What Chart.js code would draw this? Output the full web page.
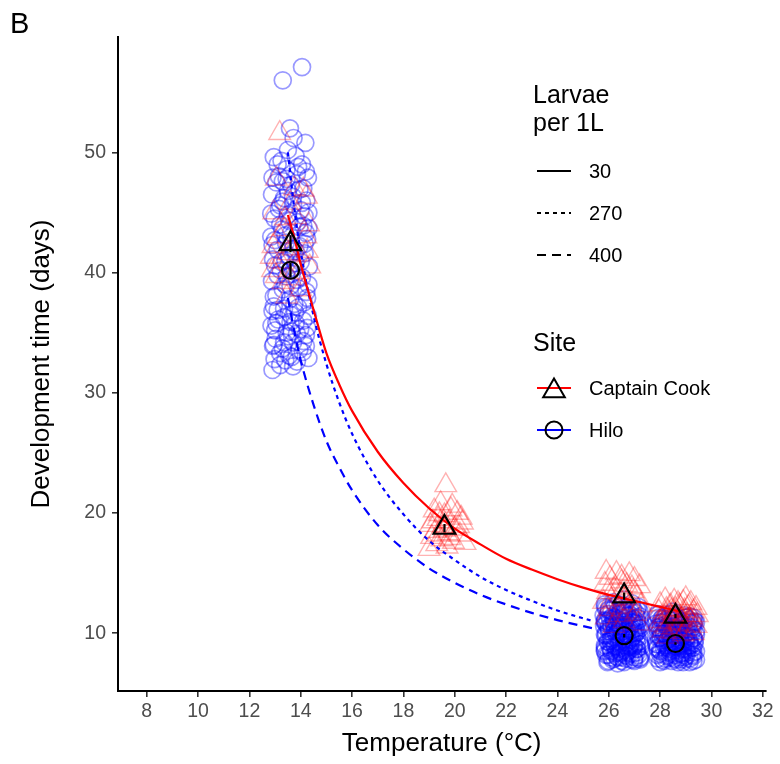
<!DOCTYPE html>
<html>
<head>
<meta charset="utf-8">
<script src="https://cdn.jsdelivr.net/npm/chart.js@4.4.0/dist/chart.umd.min.js"></script>
<style>
  html, body { margin: 0; padding: 0; background: #fff; }
  #wrap { width: 780px; height: 764px; }
</style>
</head>
<body>
<div id="wrap"><canvas id="devChart" width="780" height="764"></canvas></div>
<script>
// ---- values ----

// Hilo, individual larvae (circles)
const hilo13Temp = [13.58,13.72,14.18,12.95,13.25,14.05,13.45,13.85,14.28,13.05,13.62,13.95,12.88,13.35,14.22,13.7,13.15,14.3,13.5,12.98,
  13.88,14.1,13.28,13.62,12.85,14.25,13.42,13.95,13.1,14.15,13.55,12.92,13.8,14.32,13.22,13.65,14.05,12.88,13.4,13.9,
  14.22,13.05,13.58,14.12,12.95,13.35,13.78,14.28,13.12,13.6,12.86,13.98,13.45,14.2,13.02,13.7,12.92,13.3,14.08,13.55,
  12.98,13.85,14.3,13.2,12.9,13.75,13.2,14.0,13.5,12.9,14.2,13.3,13.9,13.0,14.1,13.4,13.7,13.1,14.3,13.6,
  12.95,13.85,13.45,13.15,13.8,14.1,13.35,13.65,14.25,13.0,13.3,14.05,
  13.5,13.1,13.9,14.2,12.9,13.3,13.7,14.05,13.2,13.55,13.95,14.3,12.85,13.4,13.8,14.15,13.0,13.6,13.25,13.85,
  14.0,12.95,13.45,13.75,14.25,13.1,13.35,13.65,14.1,12.9,13.5,13.95,13.2,13.7,14.2,13.05,13.4,13.8,14.15,13.3];
const hilo13Days = [52.0,51.2,50.8,49.6,49.3,49.0,48.6,48.2,47.9,47.5,47.3,46.9,46.5,46.2,46.0,45.7,45.3,45.0,44.8,44.5,
  44.2,43.9,43.6,43.3,43.0,42.8,42.5,42.2,41.9,41.6,41.4,41.1,40.8,40.5,40.2,39.9,39.6,39.3,39.0,38.7,
  38.4,38.1,37.8,37.5,37.2,37.0,36.7,36.4,36.1,35.9,35.6,35.3,35.0,34.8,34.5,34.2,33.9,33.7,33.4,33.1,
  32.8,32.6,32.9,32.3,31.9,40.4,44.0,45.2,46.8,42.3,43.3,38.6,37.1,35.2,36.0,41.0,42.0,39.8,39.0,36.5,
  34.0,34.9,47.8,48.0,49.7,47.0,34.2,33.0,35.4,40.6,56.0,57.1,
  50.2,49.0,48.8,48.4,47.9,47.6,46.3,45.8,45.6,44.3,43.8,43.7,44.9,43.1,41.8,42.4,42.7,38.9,40.9,39.4,
  40.9,38.0,39.7,37.4,37.9,36.9,36.3,35.1,34.3,36.8,34.7,33.6,33.3,32.2,33.9,35.8,32.7,35.8,44.7,45.9];

const hilo26Temp = [25.85,26.2,26.55,26.9,27.15,26.0,26.35,26.7,27.05,25.8,26.15,26.5,26.85,27.2,25.95,26.3,26.65,27.0,25.82,26.1,
  26.45,26.8,27.15,26.0,26.35,26.7,27.05,25.88,26.2,26.55,26.9,27.2,26.05,26.4,26.75,27.1,25.85,26.25,26.6,26.95,
  27.25,26.1,26.45,26.8,27.1,25.9,26.3,26.65,27.0,26.15,26.5,26.85,27.2,25.95,26.35,26.0,26.6,26.9,26.25,26.6,
  26.95,26.1,26.4,27.0,25.9,26.75,26.3,26.55,26.85,27.1,26.2,26.5,25.85,27.15,26.65,
  25.9,26.25,26.6,26.95,27.2,26.05,26.4,26.75,27.1,25.85,26.2,26.55,26.9,27.25,26.0,26.35,26.7,27.05,25.9,26.3,
  26.65,27.0,26.15,26.5,26.85,27.2,25.95,26.4,26.8,27.1,26.05,26.45,26.7,25.85,26.25,26.6,26.95,26.1,26.5,27.0,
  25.85,26.1,26.35,26.6,26.85,27.1, 25.98,26.22,26.48,26.72,26.98,27.22,
  25.85,26.1,26.35,26.6,26.85,27.1, 25.98,26.22,26.48,26.72,26.98,27.22,
  25.85,26.1,26.35,26.6,26.85,27.1, 25.98,26.22,26.48,26.72,26.98,27.22,
  25.85,26.1,26.35,26.6,26.85,27.1, 25.98,26.22,26.48,26.72,26.98,27.22,
  25.85,26.1,26.35,26.6,26.85,27.1, 25.98,26.22,26.48,26.72,26.98,27.22];
const hilo26Days = [12.4,12.6,12.3,12.5,12.2,11.9,11.8,11.9,11.7,11.5,11.4,11.3,11.5,11.2,11.0,10.9,11.0,10.8,10.6,10.5,
  10.6,10.4,10.5,10.2,10.1,10.2,10.0,9.8,9.7,9.8,9.6,9.7,9.4,9.3,9.4,9.2,9.0,8.9,9.0,8.8,
  8.9,8.6,8.5,8.6,8.4,8.2,8.1,8.2,8.0,7.8,7.7,7.8,7.9,7.6,7.5,12.0,12.8,11.1,10.3,9.5,
  10.3,9.1,11.6,9.0,10.8,8.8,8.4,10.7,9.9,11.0,11.1,8.8,8.5,8.2,7.9,
  12.1,12.3,11.7,12.0,11.8,11.2,11.1,11.4,11.3,11.1,10.8,10.4,10.9,10.7,10.4,10.6,9.9,10.4,10.0,9.9,
  10.0,9.8,9.5,9.2,9.1,9.3,9.3,8.7,8.9,8.7,8.8,8.3,8.4,8.6,8.3,7.6,8.3,8.0,8.0,7.7,
  12.2,11.9,12.4,12.1,11.8,12.0, 11.6,11.3,11.7,11.5,11.2,11.4,
  11.0,10.7,11.2,10.9,10.6,10.8, 10.5,10.2,10.6,10.3,10.0,10.4,
  9.9,9.6,10.1,9.8,9.5,9.7, 9.3,9.0,9.5,9.2,8.9,9.1,
  8.8,8.5,8.9,8.6,8.3,8.7, 8.2,7.9,8.4,8.1,7.8,8.0,
  10.9,9.4,8.0,11.8,9.0,10.1, 7.7,10.6,11.9,8.5,10.9,7.8];

const hilo28Temp = [27.9,28.25,28.6,28.95,29.3,28.05,28.4,28.75,29.1,29.4,27.85,28.2,28.55,28.9,29.25,28.0,28.35,28.7,29.05,29.4,
  27.9,28.25,28.6,28.95,29.3,28.1,28.45,28.8,29.15,27.85,28.2,28.55,28.9,29.25,28.0,28.35,28.7,29.05,29.4,27.9,
  28.25,28.6,28.95,29.3,28.1,28.45,28.8,29.15,28.0,29.4,28.5,28.15,28.8,29.2,28.4,28.65,29.0,28.3,27.95,29.35,
  28.5,28.85,28.1,29.1,28.7,
  27.95,28.3,28.65,29.0,29.35,28.1,28.45,28.8,29.15,27.9,28.25,28.6,28.95,29.3,28.05,28.4,28.75,29.1,29.4,27.95,
  28.3,28.65,29.0,29.35,28.15,28.5,28.85,29.2,27.9,28.35,28.7,29.05,28.0,28.45,28.9,29.25,28.2,28.55,28.95,29.3,
  27.9,28.15,28.4,28.65,28.9,29.15, 28.02,28.28,28.52,28.78,29.02,29.3,
  27.9,28.15,28.4,28.65,28.9,29.15, 28.02,28.28,28.52,28.78,29.02,29.3,
  27.9,28.15,28.4,28.65,28.9,29.15, 28.02,28.28,28.52,28.78,29.02,29.3,
  27.9,28.15,28.4,28.65,28.9,29.15, 28.02,28.28,28.52,28.78,29.02,29.3,
  27.9,28.15,28.4,28.65,28.9,29.15, 28.02,28.28,28.52,28.78,29.02,29.3];
const hilo28Days = [11.6,11.5,11.4,11.5,11.3,11.2,11.1,11.0,11.1,10.9,10.8,10.7,10.6,10.7,10.5,10.3,10.2,10.3,10.1,10.2,
  9.9,9.8,9.7,9.8,9.6,9.4,9.3,9.4,9.2,9.1,9.0,8.9,9.0,8.8,8.6,8.5,8.6,8.4,8.5,8.2,
  8.1,8.2,8.0,8.1,7.8,7.7,7.8,7.6,7.6,7.8,11.8,10.0,10.9,9.9,9.6,9.0,8.7,8.8,10.5,9.4,
  10.4,8.3,11.3,10.6,7.6,
  11.3,11.2,11.2,11.3,11.0,10.9,10.8,10.8,10.9,10.5,10.5,10.4,10.4,10.3,10.0,10.0,9.9,9.8,9.9,9.6,
  9.5,9.4,9.5,9.2,9.2,9.1,9.1,9.0,8.8,8.7,8.8,8.6,8.3,8.3,8.4,8.2,7.9,7.9,7.8,7.7,
  11.5,11.2,11.6,11.3,11.0,11.4, 10.9,10.6,11.0,10.7,10.5,10.8,
  10.3,10.0,10.4,10.1,9.8,10.2, 9.7,9.4,9.8,9.5,9.3,9.6,
  9.1,8.8,9.2,8.9,8.7,9.0, 8.5,8.2,8.6,8.3,8.1,8.4,
  7.9,7.7,8.0,7.8,7.6,7.9, 10.6,9.0,11.2,8.0,9.7,10.9,
  8.7,11.0,9.9,10.4,8.2,9.3, 9.6,8.4,10.2,9.1,11.3,8.8];

// Captain Cook, individual larvae (triangles)
const cc13Temp = [13.18,13.05,14.1,14.22,13.6,12.95,13.8,14.3,13.35,14.2,12.92,13.7,13.5,13.95,12.85,13.2,14.35,13.05,13.3,13.9,
  13.45,14.0,13.15,13.75,13.4,12.9,14.25,13.6];
const cc13Days = [51.6,47.8,46.9,46.3,45.8,45.0,44.6,44.0,43.6,43.0,42.2,42.0,41.6,41.5,41.3,40.9,40.5,39.7,39.2,40.0,
  38.0,38.6,43.0,47.0,44.5,40.2,41.8,39.5];

const cc19Temp = [19.65,19.45,19.9,19.2,20.1,19.6,19.35,19.8,20.3,19.05,19.55,20.0,19.25,19.75,20.2,19.1,19.5,19.95,19.3,20.4,
  19.7,19.0,20.15,19.4,19.85,19.6,20.25,19.15,19.8,19.35];
const cc19Days = [22.3,20.8,20.6,20.2,20.0,19.8,19.5,19.3,19.2,19.0,18.9,18.7,18.5,18.3,18.2,18.0,17.8,17.6,17.4,17.5,
  17.2,17.0,18.9,19.9,20.3,18.6,19.6,19.3,17.9,18.2];

const cc26Temp = [25.9,26.3,26.8,26.05,27.0,26.5,25.85,26.7,27.2,26.2,26.95,25.95,26.45,27.1,26.6,26.1,25.8,26.85,27.25,26.35,
  26.0,26.75,27.05,26.4,25.9,26.6,27.15,26.2,26.5,26.9];
const cc26Days = [15.1,15.0,14.9,14.6,14.5,14.3,14.1,14.0,13.9,13.7,13.5,13.4,13.3,13.1,12.9,12.8,12.6,12.5,12.3,12.2,
  12.0,11.8,11.6,11.5,11.3,11.0,10.8,10.6,14.7,13.8];

const cc28Temp = [28.2,28.55,28.9,29.2,28.0,28.4,28.75,29.1,29.4,28.25,28.6,28.95,29.3,27.95,28.35,28.7,29.05,29.45,28.15,28.5,
  28.85,29.2,28.0,28.4,28.8,29.15,29.4,28.25,28.65,29.0,28.1,28.5,29.3,28.9,28.3,28.7,29.0,28.45,29.25,28.05];
const cc28Days = [12.8,12.7,12.6,12.5,12.4,12.3,12.3,12.2,12.1,12.0,12.0,11.9,11.8,11.8,11.7,11.6,11.5,11.5,11.4,11.3,
  11.2,11.1,11.0,10.9,10.8,10.7,10.6,10.5,10.4,10.3,10.2,10.1,10.0,9.9,9.7,12.5,12.9,11.9,11.3,10.7];

// group means with error bars
const ccMeanTemp = [13.6, 19.6, 26.6, 28.6];
const ccMeanDays = [42.4, 18.8, 13.1, 11.4];
const ccMeanLo   = [41.7, 18.4, 12.8, 11.25];
const ccMeanHi   = [43.1, 19.1, 13.4, 11.6];
const hiloMeanTemp = [13.6, 26.6, 28.6];
const hiloMeanDays = [40.2, 9.8, 9.15];
const hiloMeanLo   = [39.6, 9.65, 9.05];
const hiloMeanHi   = [40.8, 9.95, 9.25];

// fitted curves (larvae per 1L)
const fit30Temp  = [13.5,13.75,14,14.5,15,15.5,16,17,18,19,20,21,22,23,24,25,26,27,28,28.8];
const fit30Days  = [44.8,42.9,40.7,36.9,33.3,30.7,28.5,25.1,22.5,20.4,18.7,17.4,16.2,15.3,14.5,13.8,13.2,12.7,12.2,11.8];
const fit270Temp = [13.5,13.75,14,14.5,15,15.5,16,17,18,19,20,21,22,23,24,25.4];
const fit270Days = [50.0,45.3,41.7,36.4,32.4,29.2,26.6,22.7,19.9,17.7,16.1,14.7,13.6,12.7,11.9,11.0];
const fit400Temp = [13.5,13.75,14,14.5,15,15.5,16,17,18,19,20,21,22,23,24,25.4];
const fit400Days = [37.9,35.1,32.7,29.0,26.0,23.8,21.9,19.0,17.0,15.4,14.2,13.2,12.4,11.7,11.1,10.4];

const xTicks = [8,10,12,14,16,18,20,22,24,26,28,30,32];
const yTicks = [10,20,30,40,50];
const densityLabels = ['30', '270', '400'];
const siteLabels = ['Captain Cook', 'Hilo'];

// ---- helpers ----
const FONT = '"Liberation Sans", Arial, Helvetica, sans-serif';
Chart.defaults.font.family = FONT;

const toPts = (xs, ys) => xs.map((x, i) => ({ x: x, y: ys[i] }));

function errorBars(xs, lo, hi) {
  return xs.map((x, i) => ({
    type: 'line',
    data: [{ x: x, y: lo[i] }, { x: x, y: hi[i] }],
    borderColor: '#000',
    borderWidth: 2.2,
    pointRadius: 0,
    showLine: true,
    order: 0
  }));
}

function curve(xs, ys, color, dash) {
  return {
    type: 'line',
    data: toPts(xs, ys),
    borderColor: color,
    borderWidth: 2.2,
    borderDash: dash,
    pointRadius: 0,
    showLine: true,
    fill: false,
    cubicInterpolationMode: 'monotone',
    order: 2
  };
}

const hiloPts = [].concat(toPts(hilo13Temp, hilo13Days), toPts(hilo26Temp, hilo26Days), toPts(hilo28Temp, hilo28Days));
const ccPts = [].concat(toPts(cc13Temp, cc13Days), toPts(cc19Temp, cc19Days), toPts(cc26Temp, cc26Days), toPts(cc28Temp, cc28Days));

// ggplot style legend + panel tag, drawn on top
const ggLegend = {
  id: 'ggLegend',
  afterDraw(chart) {
    const ctx = chart.ctx;
    ctx.save();
    ctx.fillStyle = '#000';
    ctx.textAlign = 'left';
    ctx.textBaseline = 'alphabetic';
    ctx.font = '29px ' + FONT;
    ctx.fillText('B', 10, 33);

    ctx.font = '25px ' + FONT;
    ctx.fillText('Larvae', 533, 103);
    ctx.fillText('per 1L', 533, 131);
    ctx.fillText('Site', 533, 351);

    ctx.font = '20px ' + FONT;
    ctx.textBaseline = 'middle';
    const dashes = [[], [4, 4], [9, 6]];
    densityLabels.forEach((lab, i) => {
      const y = 171 + i * 42;
      ctx.strokeStyle = '#000';
      ctx.lineWidth = 2.2;
      ctx.setLineDash(dashes[i]);
      ctx.beginPath();
      ctx.moveTo(537, y);
      ctx.lineTo(571, y);
      ctx.stroke();
      ctx.fillText(lab, 589, y + 1);
    });
    ctx.setLineDash([]);

    // Captain Cook key
    let y = 388;
    ctx.strokeStyle = '#ff0000';
    ctx.lineWidth = 2.2;
    ctx.beginPath(); ctx.moveTo(537, y); ctx.lineTo(571, y); ctx.stroke();
    ctx.strokeStyle = '#000';
    ctx.lineWidth = 2;
    const r = 12.5;
    ctx.beginPath();
    for (let k = 0; k < 3; k++) {
      const a = k * 2 * Math.PI / 3;
      const px = 554 + Math.sin(a) * r, py = y + 3 - Math.cos(a) * r;
      if (k === 0) ctx.moveTo(px, py); else ctx.lineTo(px, py);
    }
    ctx.closePath();
    ctx.stroke();
    ctx.fillText(siteLabels[0], 589, y + 1);

    // Hilo key
    y = 430;
    ctx.strokeStyle = '#0000ff';
    ctx.lineWidth = 2.2;
    ctx.beginPath(); ctx.moveTo(537, y); ctx.lineTo(571, y); ctx.stroke();
    ctx.strokeStyle = '#000';
    ctx.lineWidth = 2;
    ctx.beginPath(); ctx.arc(554, y, 8.5, 0, Math.PI * 2); ctx.stroke();
    ctx.fillText(siteLabels[1], 589, y + 1);
    ctx.restore();
  }
};

const ctx = document.getElementById('devChart');
const chart = new Chart(ctx, {
  type: 'scatter',
  data: {
    datasets: [
      {
        label: 'Hilo',
        data: hiloPts,
        pointStyle: 'circle',
        pointRadius: 8.5,
        pointBorderWidth: 1.7,
        pointBorderColor: 'rgba(0,0,255,0.4)',
        pointBackgroundColor: 'rgba(0,0,0,0)',
        order: 4
      },
      {
        label: 'Captain Cook',
        data: ccPts,
        pointStyle: 'triangle',
        pointRadius: 12.5,
        pointBorderWidth: 1.4,
        pointBorderColor: 'rgba(255,0,0,0.3)',
        pointBackgroundColor: 'rgba(0,0,0,0)',
        order: 3
      },
      curve(fit30Temp, fit30Days, '#ff0000', []),
      curve(fit270Temp, fit270Days, '#0000ff', [4, 4]),
      curve(fit400Temp, fit400Days, '#0000ff', [9, 6]),
      {
        label: 'Captain Cook mean',
        data: toPts(ccMeanTemp, ccMeanDays),
        pointStyle: 'triangle',
        pointRadius: 12.5,
        pointBorderWidth: 2.2,
        pointBorderColor: '#000',
        pointBackgroundColor: 'rgba(0,0,0,0)',
        order: 1
      },
      {
        label: 'Hilo mean',
        data: toPts(hiloMeanTemp, hiloMeanDays),
        pointStyle: 'circle',
        pointRadius: 8.5,
        pointBorderWidth: 2.2,
        pointBorderColor: '#000',
        pointBackgroundColor: 'rgba(0,0,0,0)',
        order: 1
      },
      ...errorBars(ccMeanTemp, ccMeanLo, ccMeanHi),
      ...errorBars(hiloMeanTemp, hiloMeanLo, hiloMeanHi)
    ]
  },
  options: {
    responsive: false,
    animation: false,
    devicePixelRatio: 1,
    layout: { padding: { top: 37, right: 13, bottom: 0, left: 0 } },
    plugins: {
      legend: { display: false },
      tooltip: { enabled: false }
    },
    scales: {
      x: {
        type: 'linear',
        min: 6.88,
        max: 32.1,
        afterFit: (s) => { s.height = 73; },
        afterBuildTicks: (s) => { s.ticks = xTicks.map(v => ({ value: v })); },
        ticks: { color: '#4d4d4d', font: { size: 19.5 }, padding: 3, maxRotation: 0 },
        grid: { drawOnChartArea: false, drawTicks: true, tickLength: 6, color: '#333', lineWidth: 1.6 },
        border: { display: true, color: '#000', width: 2 },
        title: { display: true, text: 'Temperature (°C)', color: '#000', font: { size: 26 }, padding: { top: 0, bottom: 5 } }
      },
      y: {
        type: 'linear',
        min: 5.2,
        max: 59.6,
        afterFit: (s) => { s.width = 118; },
        afterBuildTicks: (s) => { s.ticks = yTicks.map(v => ({ value: v })); },
        ticks: { color: '#4d4d4d', font: { size: 19.5 }, padding: 6 },
        grid: { drawOnChartArea: false, drawTicks: true, tickLength: 6, color: '#333', lineWidth: 1.6 },
        border: { display: true, color: '#000', width: 2 },
        title: { display: true, text: 'Development time (days)', color: '#000', font: { size: 26 }, padding: { top: 26, bottom: 0 } }
      }
    }
  },
  plugins: [ggLegend]
});
</script>
</body>
</html>
